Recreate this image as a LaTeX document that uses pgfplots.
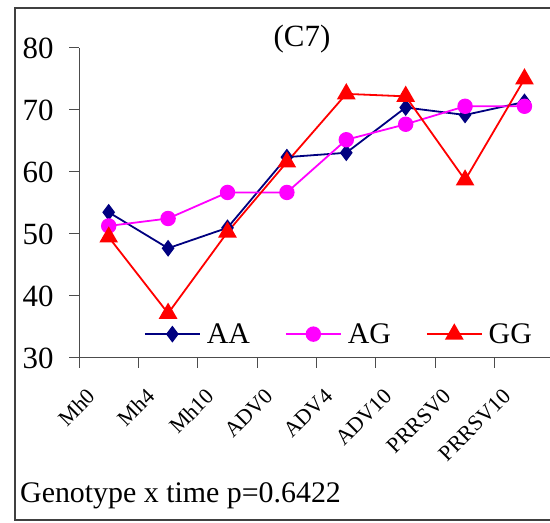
\documentclass[border=0pt]{standalone}
\usepackage{pgfplots}
\pgfplotsset{compat=1.18}
\usepackage{fontspec}
\setmainfont{Liberation Serif}
\definecolor{aa}{RGB}{0,0,128}
\definecolor{ag}{RGB}{255,0,255}
\definecolor{gg}{RGB}{255,0,0}
\begin{document}
\begin{tikzpicture}[x=1bp,y=1bp]
\useasboundingbox (0,0) rectangle (550,523);
\fill[white] (0,0) rectangle (550,523);
\draw[line width=1.5bp, black!75] (15,3) rectangle (570,515);
\begin{axis}[at={(79bp,165bp)}, anchor=south west, scale only axis,
  width=471bp, height=310bp,
  xmin=-0.5, xmax=7.43, ymin=30, ymax=80,
  axis x line*=bottom, axis y line*=left,
  axis line style={black!70, line width=1bp},
  tick pos=left, tick align=outside, major tick length=10bp,
  tick style={black!70, line width=1bp},
  xtick={-0.5,0.5,...,6.5}, xticklabels={},
  extra x ticks={0,1,...,7},
  extra x tick labels={Mh0,Mh4,Mh10,ADV0,ADV4,ADV10,PRRSV0,PRRSV10},
  extra x tick style={major tick length=0pt},
  xticklabel style={font=\fontsize{22}{22}\selectfont, xshift=-15bp, yshift=-32bp, rotate=45, anchor=east},
  ytick={30,40,...,80},
  yticklabel style={font=\fontsize{31}{31}\selectfont, xshift=-12bp},
  /pgf/number format/assume math mode=true,
  legend columns=3,
  legend style={draw=none, fill=none, inner sep=0pt, outer sep=0pt,
    at={(0.138,0.077)}, anchor=west,
    font=\fontsize{30}{30}\selectfont,
    /tikz/every odd column/.append style={column sep=4bp},
    /tikz/every even column/.append style={column sep=33bp}},
  legend image code/.code={\draw[mark repeat=2,mark phase=2] plot coordinates {(0bp,0bp) (27.5bp,0bp) (55bp,0bp)};},
]
\addplot[aa, line width=1.8bp, mark=diamond*, mark size=7bp, mark options={solid}]
  coordinates {(0,53.5)(1,47.7)(2,51.0)(3,62.4)(4,63.1)(5,70.4)(6,69.2)(7,71.3)};
\addlegendentry{AA}
\addplot[ag, line width=1.8bp, mark=*, mark size=6.8bp, mark options={solid}]
  coordinates {(0,51.3)(1,52.5)(2,56.7)(3,56.7)(4,65.2)(5,67.7)(6,70.6)(7,70.6)};
\addlegendentry{AG}
\addplot[gg, line width=1.8bp, mark=triangle*, mark size=9bp, mark options={solid}]
  coordinates {(0,49.5)(1,37.2)(2,50.3)(3,61.6)(4,72.6)(5,72.2)(6,58.7)(7,75.0)};
\addlegendentry{GG}
\end{axis}
\node[font=\fontsize{31}{31}\selectfont] at (302,484) {(C7)};
\node[font=\fontsize{30}{30}\selectfont, anchor=base west, inner sep=0pt] at (20,20) {Genotype x time p=0.6422};
\end{tikzpicture}
\end{document}
